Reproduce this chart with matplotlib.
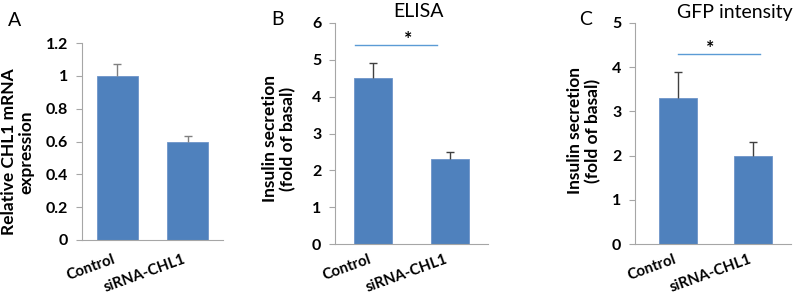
import numpy as np
import matplotlib
matplotlib.use('Agg')
from matplotlib import pyplot as plt

plt.rcParams['font.family'] = ['Lato', 'DejaVu Sans']

groups = ['Control', 'siRNA-CHL1']

mrna = [1.0, 0.6]
mrna_err = [0.07, 0.035]

elisa = [4.5, 2.3]
elisa_err = [0.4, 0.2]

gfp = [3.3, 2.0]
gfp_err = [0.6, 0.3]

bar_col = '#4F81BD'
sig_col = '#5B9BD5'
spine_col = '#A6A6A6'

W, H = 800, 297
fig = plt.figure(figsize=(8, 2.97), dpi=100)


def px(x, y):
    # pixel -> figure fraction
    return x / W, 1 - y / H


def panel(rect, vals, errs, ymax, ystep, width, xlo, ecol, fmt, xpad):
    ax = fig.add_axes(rect)
    x = np.arange(len(vals))
    ax.bar(x, vals, width=width, color=bar_col, edgecolor='#6E95C9', linewidth=0.6, zorder=2)
    eb = ax.errorbar(x, vals, yerr=[np.zeros(len(errs)), errs], fmt='none',
                     ecolor=ecol, elinewidth=1, capsize=3, capthick=1, zorder=3)
    eb[1][0].set_visible(False)  # no cap at bar top
    ax.set_xlim(xlo, 1.5)
    ax.set_ylim(0, ymax)
    ticks = np.arange(0, ymax + ystep / 2, ystep)
    ax.set_yticks(ticks)
    ax.set_yticklabels([fmt(v) for v in ticks], fontsize=11.5, fontweight='bold')
    ax.set_xticks(x)
    ax.set_xticklabels(groups, fontsize=10.8, fontweight='bold', rotation=20,
                       ha='right')
    ax.tick_params(axis='x', length=0, pad=xpad)
    ax.tick_params(axis='y', length=4, color=spine_col, pad=6)
    for s in ['top', 'right']:
        ax.spines[s].set_visible(False)
    for s in ['left', 'bottom']:
        ax.spines[s].set_color(spine_col)
        ax.spines[s].set_linewidth(0.8)
    return ax


def fmt_a(v):
    return '%g' % round(v, 1)


def ylab(x, y, s):
    fig.text(*px(x, y), s, rotation=90, ha='center', va='center', fontsize=12.5,
             fontweight='bold', linespacing=1.1, multialignment='center')


# A
axA = panel([0.1025, 0.192, 0.176, 0.663], mrna, mrna_err, 1.2, 0.2, 0.58, -0.5,
            '#808080', fmt_a, 9)
ylab(18, 152, 'Relative CHL1 mRNA\nexpression')
fig.text(*px(8, 12), 'A', fontsize=14, va='top')

# B
axB = panel([0.419, 0.178, 0.191, 0.745], elisa, elisa_err, 6, 1, 0.5, -0.5,
            '#404040', lambda v: '%d' % v, 6)
ylab(279, 139, 'Insulin secretion\n(fold of basal)')
axB.text(0.585, 6.08, 'ELISA', fontsize=14, ha='center', va='bottom')
axB.plot([-0.24, 0.83], [5.4, 5.4], color=sig_col, lw=1)
axB.text(0.46, 5.33, '*', ha='center', va='bottom', fontsize=14, fontweight='bold')
fig.text(*px(271, 11), 'B', fontsize=14, va='top')

# C
axC = panel([0.794, 0.178, 0.195, 0.745], gfp, gfp_err, 5, 1, 0.5, -0.56,
            '#404040', lambda v: '%d' % v, 6)
ylab(584, 131, 'Insulin secretion\n(fold of basal)')
axC.text(0.76, 5.05, 'GFP intensity', fontsize=14, ha='center', va='bottom')
axC.plot([0.0, 1.09], [4.3, 4.3], color=sig_col, lw=1)
axC.text(0.43, 4.23, '*', ha='center', va='bottom', fontsize=14, fontweight='bold')
fig.text(*px(579, 11), 'C', fontsize=14, va='top')

fig.savefig('out.png', dpi=100)
